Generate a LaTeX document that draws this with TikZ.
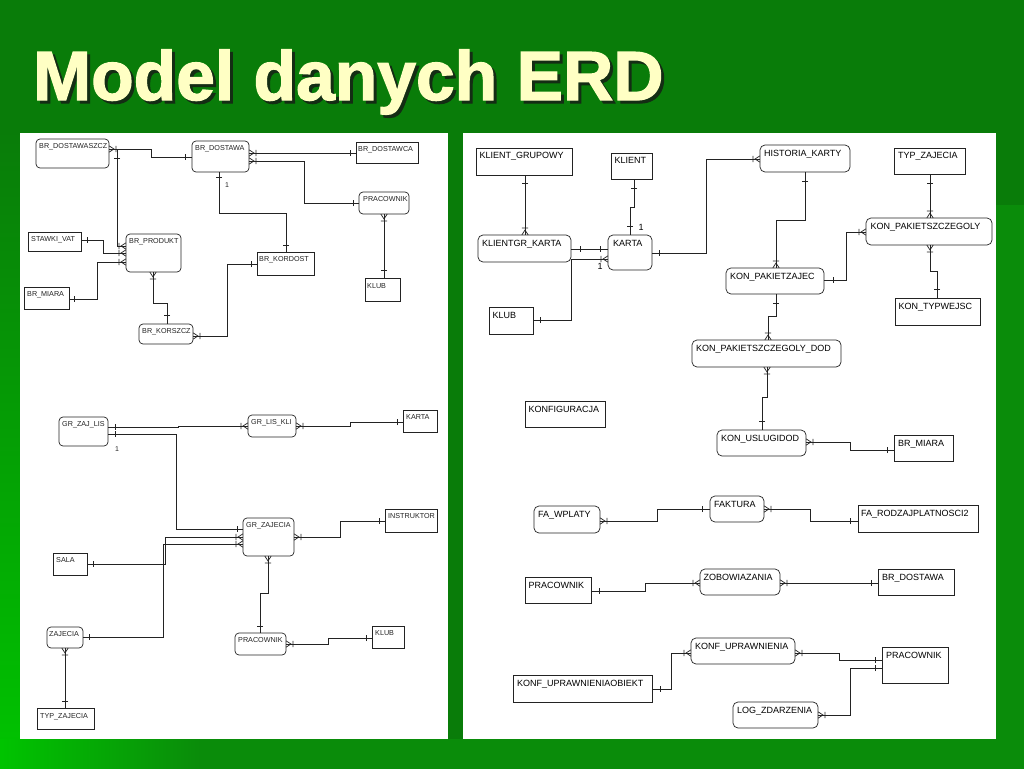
\documentclass[tikz,border=0pt]{standalone}
\usepackage{fontspec}
\setmainfont{Liberation Sans}
\newfontfamily\ttlfont[FakeBold=1.8]{Liberation Sans Bold}
\usetikzlibrary{fit,decorations.markings}
\definecolor{bgg}{RGB}{9,124,9}
\definecolor{bgbright}{RGB}{0,196,0}
\definecolor{bgmid}{RGB}{10,140,10}
\definecolor{titleyel}{RGB}{255,255,196}
\definecolor{shadowc}{RGB}{20,45,20}
\definecolor{ink}{RGB}{35,35,35}
\newcommand\ttltext{Model danych ERD}
\tikzset{
 ebox/.style={draw=ink, line width=0.7pt, inner sep=0pt, outer sep=0pt, fill=white},
 lrect/.style={ebox},
 lround/.style={ebox, rounded corners=4pt},
 rrect/.style={ebox},
 rround/.style={ebox, rounded corners=5pt},
 ltxt/.style={anchor=north west, inner sep=0pt, font=\fontsize{7.2}{8}\selectfont, text=ink},
 rtxt/.style={anchor=north west, inner sep=0pt, font=\fontsize{9}{10}\selectfont, text=black},
 conn/.style={color=ink, line width=0.7pt},
 onebar/.style={postaction={decorate,decoration={markings,mark=at position #1 with {\draw[line width=0.7pt] (0,-3)--(0,3);}}}},
 manyend/.style={postaction={decorate,decoration={markings,mark=at position 0.9999 with {\draw[line width=0.7pt] (0,3.2)--(-5,0)--(0,-3.2) (-7,-3.2)--(-7,3.2);}}}},
 manystart/.style={postaction={decorate,decoration={markings,mark=at position 0.0001 with {\draw[line width=0.7pt] (0,3.2)--(5,0)--(0,-3.2) (7,-3.2)--(7,3.2);}}}},
 lnum/.style={font=\fontsize{7}{8}\selectfont, inner sep=0pt, text=ink},
 rnum/.style={font=\fontsize{9}{10}\selectfont, inner sep=0pt, text=black},
 ttl/.style={anchor=base west, inner sep=0pt, font=\fontsize{69.6}{80}\selectfont\ttlfont}
}
\begin{document}
\begin{tikzpicture}[x=1pt,y=-1pt]
\useasboundingbox (0,0) rectangle (1024,768);
% background
\fill[bgg] (-2,-2) rectangle (1026,772);
\shade[top color=bgg, bottom color=bgbright] (-2,130) rectangle (20,772);
\fill[bgmid] (150,739) rectangle (1026,772);
\shade[left color=bgbright, right color=bgmid] (-2,739) rectangle (200,772);
\fill[bgmid] (996,205) rectangle (1026,739);
% title with shadow
\node[ttl, text=titleyel] (title) at (33,100) {\rlap{\hspace{3pt}\raisebox{-3pt}{\color{shadowc}\ttltext}}\ttltext};
% panels
\fill[white] (20,133) rectangle (448,739);
\fill[white] (463,133) rectangle (996,739);

% ===== left top =====
\node[lround, fit={(36,139)(109,168)}] (ldsz) {};
\node[ltxt] at ([shift={(3,4)}]ldsz.north west) {BR\_DOSTAWASZCZ};
\node[lround, fit={(192,141)(249,172)}] (ld) {};
\node[ltxt] at ([shift={(3,4)}]ld.north west) {BR\_DOSTAWA};
\node[lrect, fit={(356,142)(418,163)}] (ldc) {};
\node[ltxt] at ([shift={(2,4)}]ldc.north west) {BR\_DOSTAWCA};
\node[lround, fit={(359,192)(409,214)}] (lprac) {};
\node[ltxt] at ([shift={(4,4)}]lprac.north west) {PRACOWNIK};
\node[lrect, fit={(28,232)(81,251)}] (lvat) {};
\node[ltxt] at ([shift={(3,4)}]lvat.north west) {STAWKI\_VAT};
\node[lround, fit={(126,234)(181,272)}] (lprod) {};
\node[ltxt] at ([shift={(3,4)}]lprod.north west) {BR\_PRODUKT};
\node[lrect, fit={(257,252)(314,275)}] (lkord) {};
\node[ltxt] at ([shift={(2,4)}]lkord.north west) {BR\_KORDOST};
\node[lrect, fit={(24,287)(69,309)}] (lmiara) {};
\node[ltxt] at ([shift={(3,4)}]lmiara.north west) {BR\_MIARA};
\node[lrect, fit={(365,278)(400,301)}] (lklub) {};
\node[ltxt] at ([shift={(2,5)}]lklub.north west) {KLUB};
\node[lround, fit={(139,324)(193,344)}] (lkorz) {};
\node[ltxt] at ([shift={(3,4)}]lkorz.north west) {BR\_KORSZCZ};

\draw[conn, manystart, onebar=-7pt] (ldsz.east|-0,149) -| (151,157) -- (ld.west|-0,157);
\draw[conn, onebar=6pt, manyend] (ldc.west|-0,153) -- (ld.east|-0,153);
\draw[conn, onebar=6pt, manyend] (lprac.west|-0,203) -| (304,161) -- (ld.east|-0,161);
\draw[conn, onebar=5pt, onebar=-7pt] (ld.south-|219,0) |- (286,213) -- (lkord.north-|286,0);
\node[lnum] (n1) at (227,185) {1};
\draw[conn, onebar=17pt, manyend] (ldsz.east|-0,149) -| (117,246) -- (lprod.west|-0,246);
\draw[conn, onebar=6pt, manyend] (lvat.east|-0,240) -| (103,253) -- (lprod.west|-0,253);
\draw[conn, onebar=5pt, manyend] (lmiara.east|-0,299) -| (97,262) -- (lprod.west|-0,262);
\draw[conn, manystart, onebar=-9pt] (lprod.south-|153,0) |- (167,303) -- (lkorz.north-|167,0);
\draw[conn, onebar=6pt, manyend] (lkord.west|-0,264) -| (227,336) -- (lkorz.east|-0,336);
\draw[conn, manystart, onebar=-8pt] (lprac.south-|384,0) -- (lklub.north-|384,0);

% ===== left bottom =====
\node[lround, fit={(59,417)(108,446)}] (gzl) {};
\node[ltxt] at ([shift={(3,4)}]gzl.north west) {GR\_ZAJ\_LIS};
\node[lround, fit={(248,415)(296,437)}] (glk) {};
\node[ltxt] at ([shift={(3,4)}]glk.north west) {GR\_LIS\_KLI};
\node[lrect, fit={(403,410)(437,432)}] (gkarta) {};
\node[ltxt] at ([shift={(3,4)}]gkarta.north west) {KARTA};
\node[lround, fit={(243,518)(294,556)}] (gzaj) {};
\node[ltxt] at ([shift={(3,4)}]gzaj.north west) {GR\_ZAJECIA};
\node[lrect, fit={(385,509)(437,532)}] (ginst) {};
\node[ltxt] at ([shift={(3,4)}]ginst.north west) {INSTRUKTOR};
\node[lrect, fit={(53,553)(87,575)}] (gsala) {};
\node[ltxt] at ([shift={(3,4)}]gsala.north west) {SALA};
\node[lround, fit={(47,627)(83,648)}] (gzajecia) {};
\node[ltxt] at ([shift={(2,4)}]gzajecia.north west) {ZAJECIA};
\node[lround, fit={(235,633)(286,655)}] (gprac) {};
\node[ltxt] at ([shift={(3,4)}]gprac.north west) {PRACOWNIK};
\node[lrect, fit={(372,626)(404,648)}] (gklub) {};
\node[ltxt] at ([shift={(3,4)}]gklub.north west) {KLUB};
\node[lrect, fit={(37,708)(94,729)}] (gtyp) {};
\node[ltxt] at ([shift={(3,5)}]gtyp.north west) {TYP\_ZAJECIA};

\draw[conn, onebar=7pt, manyend] (gzl.east|-0,427) -| (178,426) -- (glk.west|-0,426);
\draw[conn, onebar=6pt, manyend] (gkarta.west|-0,422) -| (350,426) -- (glk.east|-0,426);
\draw[conn, onebar=7pt, onebar=-6pt] (gzl.east|-0,434) -| (176,529) -- (gzaj.west|-0,529);
\node[lnum] (n2) at (117,449) {1};
\draw[conn, onebar=6pt, manyend] (gsala.east|-0,564) -| (165,537) -- (gzaj.west|-0,537);
\draw[conn, onebar=6pt, manyend] (gzajecia.east|-0,637) -| (163,544) -- (gzaj.west|-0,544);
\draw[conn, onebar=6pt, manyend] (ginst.west|-0,521) -| (340,537) -- (gzaj.east|-0,537);
\draw[conn, manystart, onebar=-7pt] (gzaj.south-|268,0) |- (260,593) -- (gprac.north-|260,0);
\draw[conn, onebar=6pt, manyend] (gklub.west|-0,638) -| (328,644) -- (gprac.east|-0,644);
\draw[conn, manystart, onebar=-7pt] (gzajecia.south-|65,0) -- (gtyp.north-|65,0);

% ===== right panel =====
\node[rrect, fit={(476,148)(572,175)}] (rkg) {};
\node[rtxt] at ([shift={(3.5,4.5)}]rkg.north west) {KLIENT\_GRUPOWY};
\node[rrect, fit={(611,153)(652,179)}] (rkl) {};
\node[rtxt] at ([shift={(3.5,4.5)}]rkl.north west) {KLIENT};
\node[rround, fit={(760,145)(850,172)}] (rhk) {};
\node[rtxt] at ([shift={(4,5)}]rhk.north west) {HISTORIA\_KARTY};
\node[rrect, fit={(894,148)(965,174)}] (rtyp) {};
\node[rtxt] at ([shift={(4,4.5)}]rtyp.north west) {TYP\_ZAJECIA};
\node[rround, fit={(478,235)(571,262)}] (rkgk) {};
\node[rtxt] at ([shift={(4,5)}]rkgk.north west) {KLIENTGR\_KARTA};
\node[rround, fit={(608,235)(652,270)}] (rkarta) {};
\node[rtxt] at ([shift={(5,5)}]rkarta.north west) {KARTA};
\node[rround, fit={(866,218)(992,245)}] (rkps) {};
\node[rtxt] at ([shift={(4.5,5)}]rkps.north west) {KON\_PAKIETSZCZEGOLY};
\node[rround, fit={(726,268)(824,294)}] (rkpz) {};
\node[rtxt] at ([shift={(4,5)}]rkpz.north west) {KON\_PAKIETZAJEC};
\node[rrect, fit={(489,307)(533,334)}] (rklub) {};
\node[rtxt] at ([shift={(3.5,5)}]rklub.north west) {KLUB};
\node[rrect, fit={(895,298)(980,325)}] (rktw) {};
\node[rtxt] at ([shift={(3.5,5)}]rktw.north west) {KON\_TYPWEJSC};
\node[rround, fit={(692,340)(841,367)}] (rdod) {};
\node[rtxt] at ([shift={(4,5)}]rdod.north west) {KON\_PAKIETSZCZEGOLY\_DOD};
\node[rrect, fit={(525,401)(605,427)}] (rkonf) {};
\node[rtxt] at ([shift={(3.5,5)}]rkonf.north west) {KONFIGURACJA};
\node[rround, fit={(717,430)(806,456)}] (rusl) {};
\node[rtxt] at ([shift={(4,5)}]rusl.north west) {KON\_USLUGIDOD};
\node[rrect, fit={(894,435)(953,461)}] (rmiara) {};
\node[rtxt] at ([shift={(4,5)}]rmiara.north west) {BR\_MIARA};
\node[rround, fit={(534,506)(600,533)}] (rfaw) {};
\node[rtxt] at ([shift={(4,5)}]rfaw.north west) {FA\_WPLATY};
\node[rround, fit={(710,496)(764,522)}] (rfak) {};
\node[rtxt] at ([shift={(4,5)}]rfak.north west) {FAKTURA};
\node[rrect, fit={(858,505)(978,532)}] (rfar) {};
\node[rtxt] at ([shift={(3,5)}]rfar.north west) {FA\_RODZAJPLATNOSCI2};
\node[rrect, fit={(525,577)(591,603)}] (rprac) {};
\node[rtxt] at ([shift={(3.5,5)}]rprac.north west) {PRACOWNIK};
\node[rround, fit={(700,569)(780,595)}] (rzob) {};
\node[rtxt] at ([shift={(3.5,5)}]rzob.north west) {ZOBOWIAZANIA};
\node[rrect, fit={(878,569)(954,595)}] (rbrd) {};
\node[rtxt] at ([shift={(4,5)}]rbrd.north west) {BR\_DOSTAWA};
\node[rround, fit={(691,638)(795,664)}] (rkonfu) {};
\node[rtxt] at ([shift={(4,5)}]rkonfu.north west) {KONF\_UPRAWNIENIA};
\node[rrect, fit={(882,647)(948,683)}] (rprac2) {};
\node[rtxt] at ([shift={(4,5)}]rprac2.north west) {PRACOWNIK};
\node[rrect, fit={(513,675)(652,702)}] (rkuo) {};
\node[rtxt] at ([shift={(4,5)}]rkuo.north west) {KONF\_UPRAWNIENIAOBIEKT};
\node[rround, fit={(733,702)(818,728)}] (rlog) {};
\node[rtxt] at ([shift={(4,5)}]rlog.north west) {LOG\_ZDARZENIA};

\draw[conn, onebar=8pt, manyend] (rkg.south-|525,0) -- (rkgk.north-|525,0);
\draw[conn, onebar=9pt, onebar=-9pt] (rkl.south-|634,0) |- (630,207) -- (rkarta.north-|630,0);
\node[rnum] (n3) at (641,227) {1};
\draw[conn, onebar=9pt, onebar=-8pt] (rkgk.east|-0,249) -- (rkarta.west|-0,249);
\draw[conn, manyend] (rkgk.east|-0,259) -- (rkarta.west|-0,259);
\node[rnum] (n4) at (600,266) {1};
\draw[conn, onebar=-7pt] (rkgk.east|-0,259) |- (rklub.east|-0,320);
\draw[conn, onebar=7pt, manyend] (rkarta.east|-0,253) -| (706,159) -- (rhk.west|-0,159);
\draw[conn, onebar=9pt, manyend] (rhk.south-|805,0) |- (776,220) -- (rkpz.north-|776,0);
\draw[conn, onebar=9pt, manyend] (rkpz.east|-0,280) -| (846,232) -- (rkps.west|-0,232);
\draw[conn, onebar=9pt, manyend] (rtyp.south-|930,0) -- (rkps.north-|930,0);
\draw[conn, manystart, onebar=-9pt] (rkps.south-|930,0) |- (937,271) -- (rktw.north-|937,0);
\draw[conn, onebar=9pt, manyend] (rkpz.south-|776,0) |- (768,316) -- (rdod.north-|768,0);
\draw[conn, manystart, onebar=-9pt] (rdod.south-|767,0) |- (762,397) -- (rusl.north-|762,0);
\draw[conn, onebar=7pt, manyend] (rmiara.west|-0,450) -| (850,442) -- (rusl.east|-0,442);
\draw[conn, onebar=8pt, manyend] (rfak.west|-0,509) -| (657,521) -- (rfaw.east|-0,521);
\draw[conn, onebar=8pt, manyend] (rfar.west|-0,521) -| (810,509) -- (rfak.east|-0,509);
\draw[conn, onebar=8pt, manyend] (rprac.east|-0,591) -| (645,583) -- (rzob.west|-0,583);
\draw[conn, onebar=7pt, manyend] (rbrd.west|-0,583) -- (rzob.east|-0,583);
\draw[conn, onebar=8pt, manyend] (rkuo.east|-0,689) -| (671,653) -- (rkonfu.west|-0,653);
\draw[conn, onebar=7pt, manyend] (rprac2.west|-0,660) -| (839,653) -- (rkonfu.east|-0,653);
\draw[conn, onebar=7pt, manyend] (rprac2.west|-0,668) -| (850,715) -- (rlog.east|-0,715);
\end{tikzpicture}
\end{document}
